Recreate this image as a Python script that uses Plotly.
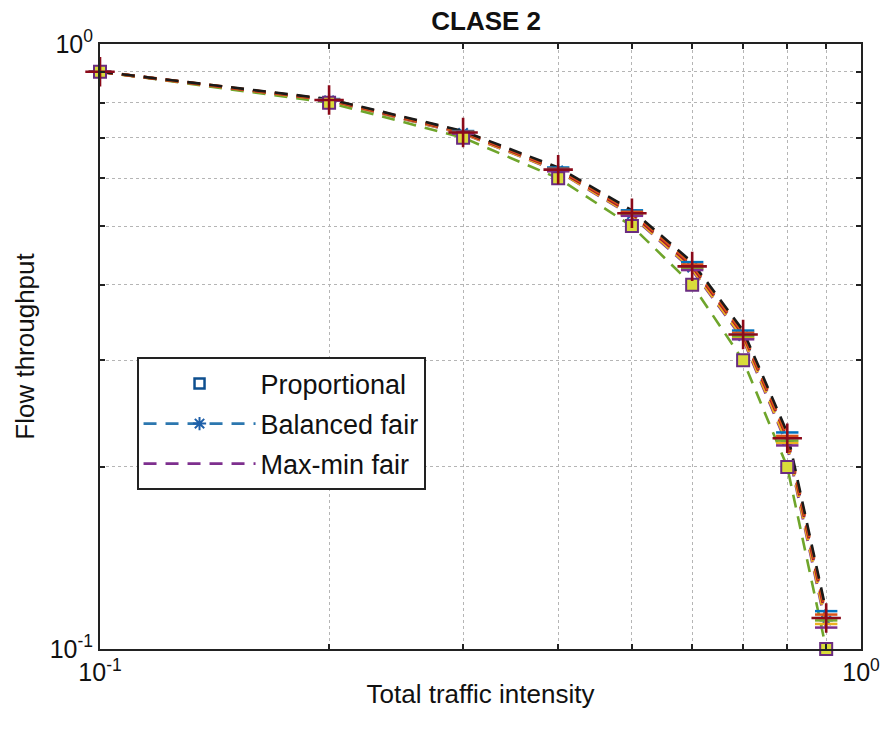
import plotly.graph_objects as go

# Offered load (total traffic intensity)
load = [0.1, 0.2, 0.3, 0.4, 0.5, 0.6, 0.7, 0.8, 0.9]

# Per-flow throughput for each allocation policy
proportional = [0.9, 0.8, 0.7, 0.6, 0.5, 0.4, 0.3, 0.2, 0.1]
balanced_fair = [0.9, 0.807, 0.713, 0.618, 0.523, 0.427, 0.329, 0.221, 0.1115]
maxmin_fair = [0.9, 0.806, 0.711, 0.616, 0.520, 0.423, 0.325, 0.217, 0.1085]

# Remaining class curves drawn in the same group
class_black = [0.9, 0.811, 0.718, 0.625, 0.531, 0.436, 0.336, 0.228, 0.1155]
class_orange = [0.9, 0.809, 0.716, 0.622, 0.528, 0.432, 0.333, 0.225, 0.114]
class_red = [0.9, 0.808, 0.714, 0.620, 0.525, 0.429, 0.331, 0.223, 0.1125]
class_yellow = [0.9, 0.807, 0.712, 0.617, 0.522, 0.425, 0.327, 0.219, 0.110]

tick_vals = [0.1, 0.2, 0.3, 0.4, 0.5, 0.6, 0.7, 0.8, 0.9, 1.0]
tick_text = ["10<sup>-1</sup>", "", "", "", "", "", "", "", "", "10<sup>0</sup>"]

FONT = "Liberation Sans, Arial, Helvetica, sans-serif"
DASH = "13px,9px"

fig = go.Figure()

# Proportional policy: open squares (drawn first, sits beneath the filled squares)
fig.add_trace(go.Scatter(
    x=load, y=proportional, mode="markers", name="Proportional", cliponaxis=False,
    marker=dict(symbol="square-open", size=10, color="#0E4F8F", line=dict(width=2.5)),
    legendrank=1, legendgroup="p",
))

# Max-min fair policy
fig.add_trace(go.Scatter(
    x=load, y=maxmin_fair, mode="lines", name="Max-min fair", cliponaxis=False,
    line=dict(color="#7E2F8E", width=2.8, dash=DASH),
    legendrank=3, legendgroup="m",
))

# Balanced fair policy
fig.add_trace(go.Scatter(
    x=load, y=balanced_fair, mode="lines+markers", name="Balanced fair", cliponaxis=False,
    line=dict(color="#2C77AF", width=2.8, dash=DASH),
    marker=dict(symbol="asterisk-open", size=11, color="#1E5FA8", line=dict(width=2)),
    legendrank=2, legendgroup="b",
))


def dashed(y, color, width=3.0):
    fig.add_trace(go.Scatter(
        x=load, y=y, mode="lines", showlegend=False, cliponaxis=False,
        line=dict(color=color, width=width, dash=DASH),
    ))


# Proportional curve (green dashed, lowest)
dashed(proportional, "#6FA52B", width=2.6)

# Upper cluster of class curves
dashed(class_yellow, "#EDB120")
dashed(class_red, "#A2142F")
dashed(class_orange, "#D95319")
dashed(class_black, "#1a1a1a", width=2.6)

# Horizontal tick-like markers on the upper cluster
for yv, col in [(class_black, "#0072BD"), (class_orange, "#D95319"),
                (class_yellow, "#EDB120"), (class_red, "#4DBEEE"),
                (balanced_fair, "#77AC30"), (maxmin_fair, "#7E2F8E")]:
    fig.add_trace(go.Scatter(
        x=load, y=yv, mode="markers", showlegend=False, cliponaxis=False,
        marker=dict(symbol="line-ew-open", size=16, color=col, line=dict(width=2.5)),
    ))

# Filled square markers on the proportional points
fig.add_trace(go.Scatter(
    x=load, y=proportional, mode="markers", showlegend=False, cliponaxis=False,
    marker=dict(symbol="square", size=12, color="#D9DC3A", line=dict(color="#6A2C80", width=2)),
))

# Cross markers
fig.add_trace(go.Scatter(
    x=load, y=class_red, mode="markers", showlegend=False, cliponaxis=False,
    marker=dict(symbol="cross-thin-open", size=21, color="#8B0A1A", line=dict(width=2.6)),
))

axis_common = dict(
    type="log", range=[-1, 0], tickvals=tick_vals, ticktext=tick_text,
    showgrid=True, gridcolor="#b5b5b5", griddash="dot", gridwidth=1,
    showline=True, linecolor="#222222", linewidth=2, mirror="ticks",
    ticks="inside", ticklen=5, tickcolor="#222222", tickwidth=1.5,
    zeroline=False, tickfont=dict(family=FONT, size=25, color="#111111"),
)

fig.update_layout(
    width=892, height=732,
    margin=dict(l=100, r=22, t=44, b=83),
    paper_bgcolor="white", plot_bgcolor="white",
    font=dict(family=FONT, color="#111111"),
    title=dict(text="<b>CLASE 2</b>", x=0.545, xanchor="center", y=0.972, yanchor="middle",
               font=dict(family=FONT, size=26, color="#111111")),
    xaxis=dict(axis_common, title=dict(text="Total traffic intensity", font=dict(size=26), standoff=0)),
    yaxis=dict(axis_common, title=dict(text="Flow throughput", font=dict(size=26), standoff=8)),
    legend=dict(
        x=0.048, y=0.482, xanchor="left", yanchor="top",
        bgcolor="white", bordercolor="#222222", borderwidth=2,
        font=dict(family=FONT, size=27, color="#111111"),
        traceorder="grouped", tracegroupgap=2, itemwidth=112,
    ),
)

fig.write_html("out.html")
